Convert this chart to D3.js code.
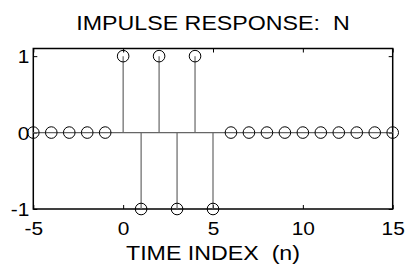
<!DOCTYPE html>
<html>
<head>
<meta charset="utf-8">
<script src="https://cdn.jsdelivr.net/npm/d3@7"></script>
<style>
  body { margin: 0; background: #fff; }
  svg text { font-family: "Liberation Sans", Arial, Helvetica, sans-serif; fill: #000; }
</style>
</head>
<body>
<svg id="chart"></svg>
<script>
// sample index n and response h[n]
const nValues = [-5, -4, -3, -2, -1, 0, 1, 2, 3, 4, 5, 6, 7, 8, 9, 10, 11, 12, 13, 14, 15];
const hValues = [0, 0, 0, 0, 0, 1, -1, 1, -1, 1, -1, 0, 0, 0, 0, 0, 0, 0, 0, 0, 0];
const xTicks = [-5, 0, 5, 10, 15];
const yTicks = [-1, 0, 1];
const titleText = 'IMPULSE RESPONSE:\u00a0 N';
const xLabelText = 'TIME INDEX\u00a0 (n)';

const size = { width: 408, height: 265 };
const margin = { top: 48.5, right: 15.3, bottom: 56, left: 33.3 };
const stretch = 1.16; // glyphs in the reference are horizontally widened
const plain = d => String(d); // hyphen minus, no decimals

// widen a text's glyphs without a transform
function widen(sel) {
  sel.each(function () {
    const w = this.getComputedTextLength();
    d3.select(this)
      .attr('textLength', w * stretch)
      .attr('lengthAdjust', 'spacingAndGlyphs');
  });
}

const svg = d3.select('#chart')
  .attr('width', size.width)
  .attr('height', size.height);

const innerWidth = size.width - margin.left - margin.right;
const innerHeight = size.height - margin.top - margin.bottom;

const xScale = d3.scaleLinear().domain([-5, 15]).range([0, innerWidth]);
const yScale = d3.scaleLinear().domain([-1, 1.1]).range([innerHeight, 0]);

const g = svg.append('g')
  .attr('transform', `translate(${margin.left},${margin.top})`);

const data = nValues.map((n, i) => ({ n, h: hValues[i] }));

// inward ticks on all four sides, labels only bottom/left
const bottom = g.append('g')
  .attr('transform', `translate(0,${innerHeight})`)
  .call(d3.axisBottom(xScale).tickValues(xTicks).tickFormat(plain).tickSizeInner(-4).tickSizeOuter(0));

const left = g.append('g')
  .call(d3.axisLeft(yScale).tickValues(yTicks).tickFormat(plain).tickSizeInner(-4).tickSizeOuter(0));

g.append('g')
  .call(d3.axisTop(xScale).tickValues(xTicks).tickSizeInner(-4).tickSizeOuter(0).tickFormat(''));
g.append('g')
  .attr('transform', `translate(${innerWidth},0)`)
  .call(d3.axisRight(yScale).tickValues(yTicks).tickSizeInner(-4).tickSizeOuter(0).tickFormat(''));

g.selectAll('.domain').remove();
g.selectAll('.tick line').attr('stroke', '#000').attr('stroke-width', 1);
g.selectAll('g').attr('font-family', null).attr('font-size', null);
g.selectAll('.tick text').attr('fill', '#000').style('font-size', '18px');

bottom.selectAll('text').attr('y', 26).attr('dy', null).call(widen);
left.selectAll('text').attr('x', -4).attr('dy', '0.36em').call(widen);

// frame
g.append('rect')
  .attr('width', innerWidth)
  .attr('height', innerHeight)
  .attr('fill', 'none')
  .attr('stroke', '#000')
  .attr('stroke-width', 1.5);

// baseline
g.append('line')
  .attr('x1', xScale(-5)).attr('x2', xScale(15))
  .attr('y1', yScale(0)).attr('y2', yScale(0))
  .attr('stroke', '#666')
  .attr('stroke-width', 1.2);

// stems
g.selectAll('.stem')
  .data(data.filter(d => d.h !== 0))
  .enter()
  .append('line')
  .attr('class', 'stem')
  .attr('x1', d => xScale(d.n)).attr('x2', d => xScale(d.n))
  .attr('y1', yScale(0)).attr('y2', d => yScale(d.h))
  .attr('stroke', '#666')
  .attr('stroke-width', 1.2);

// markers
g.selectAll('.marker')
  .data(data)
  .enter()
  .append('circle')
  .attr('class', 'marker')
  .attr('cx', d => xScale(d.n))
  .attr('cy', d => yScale(d.h))
  .attr('r', 5.8)
  .attr('fill', 'none')
  .attr('stroke', '#000')
  .attr('stroke-width', 1);

// title and x label
const centerX = margin.left + innerWidth / 2;
svg.append('text')
  .attr('x', centerX).attr('y', 29.5)
  .attr('text-anchor', 'middle')
  .style('font-size', '20px')
  .text(titleText)
  .call(widen);

svg.append('text')
  .attr('x', centerX).attr('y', 259.5)
  .attr('text-anchor', 'middle')
  .style('font-size', '20px')
  .text(xLabelText)
  .call(widen);
</script>
</body>
</html>
